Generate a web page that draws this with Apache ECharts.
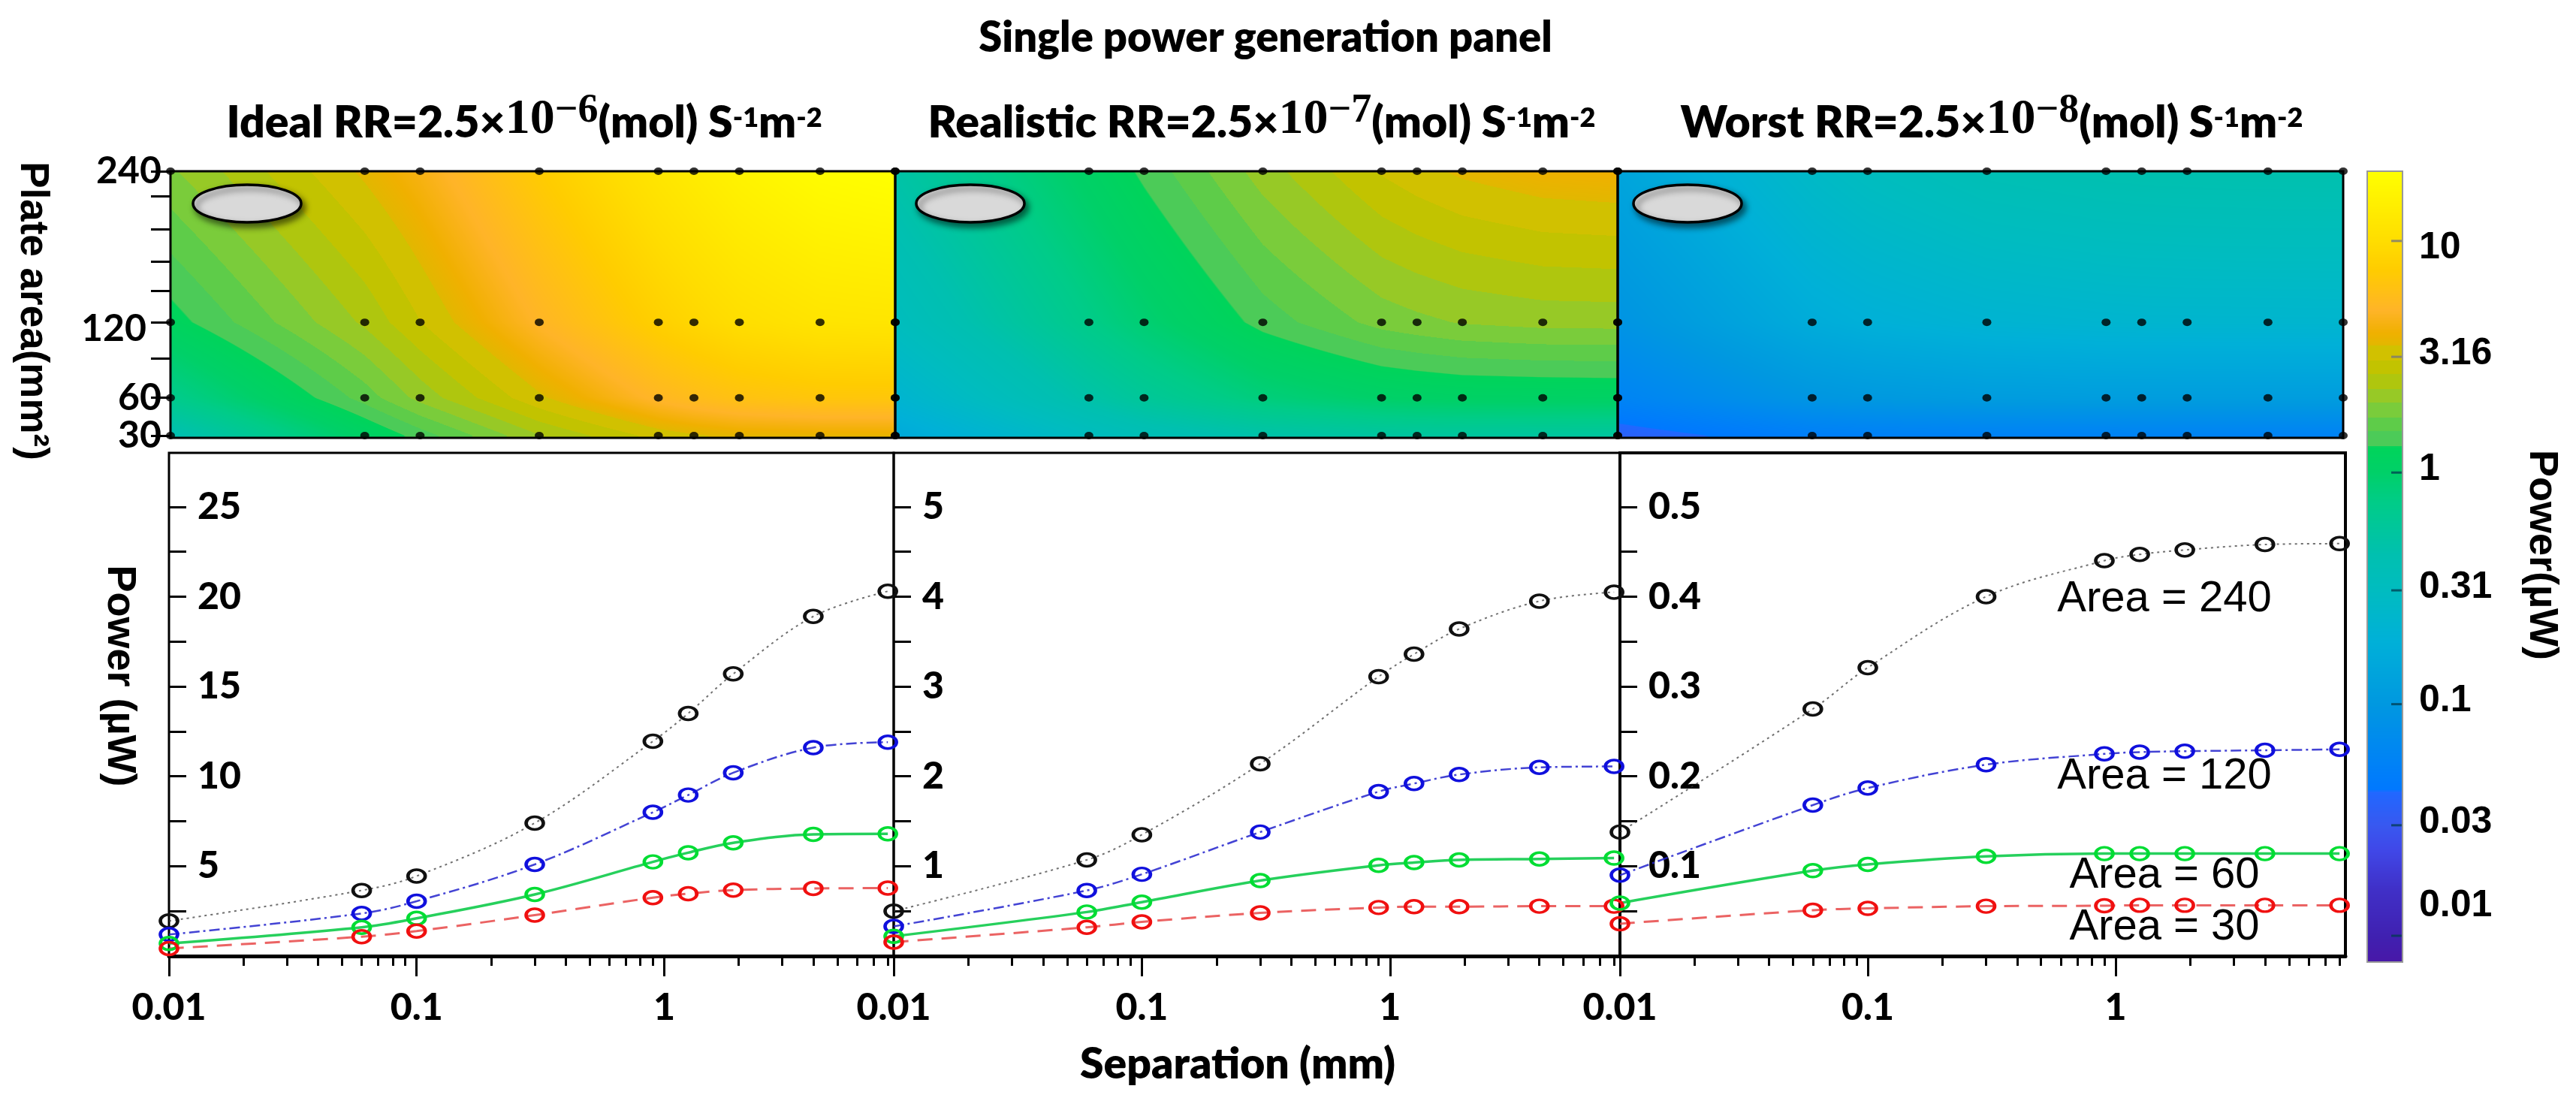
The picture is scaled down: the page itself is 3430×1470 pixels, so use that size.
<!DOCTYPE html>
<html><head><meta charset="utf-8"><style>html,body{margin:0;padding:0;background:#fff}#c{width:3430px;height:1470px}</style>
<script src="https://cdn.jsdelivr.net/npm/echarts@6/dist/echarts.min.js"></script></head>
<body><div id="c"></div><script>
// ---- data ----
const separations=[0.01,0.06,0.1,0.3,0.9,1.25,1.9,4,8];
const areas=[240,120,60,30];
const ideal240=[1.95,3.65,4.45,7.4,11.95,13.5,15.7,18.9,20.3];
const ideal120=[1.2,2.37,3.05,5.1,8.0,8.96,10.2,11.6,11.9];
const ideal60=[0.7,1.6,2.1,3.43,5.24,5.75,6.3,6.77,6.8];
const ideal30=[0.42,1.08,1.39,2.28,3.25,3.47,3.67,3.76,3.78];
const real240=[0.5,1.07,1.35,2.14,3.11,3.36,3.64,3.95,4.05];
const real120=[0.33,0.73,0.91,1.38,1.83,1.92,2.02,2.1,2.11];
const real60=[0.22,0.49,0.6,0.84,1.01,1.04,1.07,1.08,1.09];
const real30=[0.155,0.32,0.38,0.48,0.54,0.55,0.55,0.555,0.555];
const worst240=[0.138,0.275,0.321,0.40,0.44,0.447,0.452,0.458,0.459];
const worst120=[0.09,0.168,0.187,0.213,0.225,0.227,0.228,0.229,0.23];
const worst60=[0.059,0.095,0.102,0.111,0.114,0.114,0.114,0.114,0.114];
const worst30=[0.036,0.051,0.053,0.0555,0.056,0.0565,0.0565,0.0565,0.0565];
const panelSeries=[[ideal240,ideal120,ideal60,ideal30],[real240,real120,real60,real30],[worst240,worst120,worst60,worst30]];
const yTickValues=[[2.5,5,7.5,10,12.5,15,17.5,20,22.5,25],[0.5,1,1.5,2,2.5,3,3.5,4,4.5,5],[0.05,0.1,0.15,0.2,0.25,0.3,0.35,0.4,0.45,0.5]];
const yLabelValues=[[5,10,15,20,25],[1,2,3,4,5],[0.1,0.2,0.3,0.4,0.5]];
const yMax=[28,5.6,0.56];
const plateTicks=[30,60,91,120,145,168,194,220,240];
const plateLabels=[30,60,120,240];
const xMinor=[0.02,0.03,0.04,0.05,0.06,0.07,0.08,0.09,0.2,0.3,0.4,0.5,0.6,0.7,0.8,0.9,2,3,4,5,6,7,8];
const colorbarTicks=[10,3.16,1,0.31,0.1,0.03,0.01];
const colorbarLabels=[10,3.16,1,0.31,0.1,0.03,0.01];
const palette=[[0.0077,'#4818a8'],[0.0098,'#4020b0'],[0.016,'#4030c8'],[0.0235,'#4048e8'],[0.03,'#3858f0'],[0.042,'#2068ff'],[0.0425,'#0078ff'],[0.066,'#0088f0'],[0.1,'#0098e0'],[0.186,'#00b0d8'],[0.31,'#00bcc0'],[0.44,'#00c0b0'],[0.74,'#00cc88'],[1,'#00d068'],[1.29,'#00d45a'],[1.3,'#4ccb58'],[1.52,'#60cc48'],[1.78,'#80cc38'],[2.08,'#a0c820'],[2.5,'#bcc400'],[3.16,'#d4c000'],[3.5,'#e0b800'],[4,'#f0b000'],[5,'#ffb428'],[7.5,'#ffcc00'],[10,'#ffdd00'],[20,'#ffff00']];
const lineColors=['#333333','#2222cc','#00c840','#e84848'];
const markerColors=['#111111','#1010dd','#00dd33','#f01010'];
const lineTypes=[[3,5],[14,5,3,5],'solid',[20,12]];
const lineWidths=[2,2.5,3.5,3];
const panelTitles=[['Ideal RR=2.5×','−6'],['Realistic RR=2.5×','−7'],['Worst RR=2.5×','−8']];
const curveLabels=['Area = 240','Area = 120','Area = 60','Area = 30'];

// ---- helpers ----
const FONT='Lato',ARIAL='"Liberation Sans"';
const stopsRGB=palette.map(p=>[Math.log10(p[0]),parseInt(p[1].slice(1,3),16),parseInt(p[1].slice(3,5),16),parseInt(p[1].slice(5,7),16)]);
function rgbOf(logV){
  // the band between 1.3 and 3.5 is stepped as in the colour key
  if(logV>0.114&&logV<0.55){logV=0.114+Math.floor((logV-0.114)/0.062)*0.062;}
  const s=stopsRGB;if(logV<=s[0][0])return s[0].slice(1);
  for(let i=1;i<s.length;i++){if(logV<=s[i][0]){const t=(logV-s[i-1][0])/(s[i][0]-s[i-1][0]);return [0,1,2].map(k=>s[i-1][k+1]+(s[i][k+1]-s[i-1][k+1])*t);}}
  return s[s.length-1].slice(1);
}
const topGridBox=[[227,1192],[1192,2154],[2154,3120]];
const botGridBox=[[225,1190],[1190,2157],[2157,3123]];
const TOP_Y=[228,583],BOT_Y=[603,1273],CB={left:3152,right:3199,top:228,bottom:1281};
const grid=[],xAxis=[],yAxis=[],series=[];
const xMinVal=0.01,xMaxTop=8,xMaxBot=8.45,plateMin=28.2;

function cellRenderer(values){
  return function(params,api){
    const i=api.value(0),j=api.value(1);
    const xa=separations[i],xb=separations[i+1],ya=areas[j],yb=areas[j+1];
    const yBottom=j===areas.length-2?plateMin:yb;
    const p0=api.coord([xa,ya]),p1=api.coord([xb,yBottom]),pyb=api.coord([xb,yb]);
    const x0=Math.floor(p0[0]),x1=Math.ceil(p1[0]),y0=Math.floor(p0[1]),y1=Math.ceil(p1[1]);
    const w=x1-x0,h=y1-y0,cv=document.createElement('canvas');cv.width=w;cv.height=h;
    const ctx=cv.getContext('2d'),img=ctx.createImageData(w,h);
    const L=(a,b)=>Math.log10(values[a][b]);
    const v00=L(j,i),v10=L(j,i+1),v01=L(j+1,i),v11=L(j+1,i+1);
    for(let py=0;py<h;py++){
      const t=Math.min(1,Math.max(0,(y0+py+0.5-p0[1])/(pyb[1]-p0[1])));
      for(let px=0;px<w;px++){
        const u=Math.min(1,Math.max(0,(x0+px+0.5-p0[0])/(p1[0]-p0[0])));
        const c=rgbOf((v00*(1-u)+v10*u)*(1-t)+(v01*(1-u)+v11*u)*t);
        const o=(py*w+px)*4;img.data[o]=c[0];img.data[o+1]=c[1];img.data[o+2]=c[2];img.data[o+3]=255;
      }
    }
    ctx.putImageData(img,0,0);
    return {type:'image',style:{image:cv,x:x0,y:y0,width:w,height:h}};
  };
}

panelSeries.forEach((vals,k)=>{
  const g=grid.length;
  grid.push({left:topGridBox[k][0],width:topGridBox[k][1]-topGridBox[k][0],top:TOP_Y[0],height:TOP_Y[1]-TOP_Y[0],show:true,borderColor:'#000',borderWidth:3,z:5});
  xAxis.push({gridIndex:g,type:'log',logBase:10,min:xMinVal,max:xMaxTop,axisLine:{show:false},axisTick:{show:false},axisLabel:{show:false},splitLine:{show:false}});
  yAxis.push({gridIndex:g,type:'value',min:plateMin,max:240,axisLine:{show:false},splitLine:{show:false},
    axisTick:{show:k===0,length:26,lineStyle:{color:'#000',width:3},customValues:plateTicks},
    axisLabel:{show:k===0,customValues:plateLabels,showMinLabel:true,showMaxLabel:true,hideOverlap:false,margin:12,fontFamily:FONT,fontWeight:700,fontSize:50,color:'#000',
      formatter:v=>v===120?'{o|120}':'{n|'+v+'}',rich:{o:{fontFamily:FONT,fontWeight:700,fontSize:50,padding:[18,20,0,0]},n:{fontFamily:FONT,fontWeight:700,fontSize:50}}}});
  const cells=[];for(let i=0;i<separations.length-1;i++)for(let j=0;j<areas.length-1;j++)cells.push([i,j]);
  series.push({type:'custom',xAxisIndex:xAxis.length-1,yAxisIndex:yAxis.length-1,coordinateSystem:'cartesian2d',clip:true,silent:true,animation:false,
    data:cells,encode:{x:[],y:[]},renderItem:cellRenderer(vals),z:1});
  const dots=[];areas.forEach(a=>separations.forEach(s=>dots.push([s,a])));
  series.push({type:'scatter',xAxisIndex:xAxis.length-1,yAxisIndex:yAxis.length-1,data:dots,symbol:'circle',symbolSize:[12,10],itemStyle:{color:'#000'},z:10,animation:false,silent:true,clip:false});
});
panelSeries.forEach((vals,k)=>{
  const g=grid.length;
  grid.push({left:botGridBox[k][0],width:botGridBox[k][1]-botGridBox[k][0],top:BOT_Y[0],height:BOT_Y[1]-BOT_Y[0],show:true,borderColor:'#000',borderWidth:k===2?4:3,z:5});
  xAxis.push({gridIndex:g,type:'log',logBase:10,min:xMinVal,max:xMaxBot,position:'bottom',
    axisLine:{show:true,onZero:false,lineStyle:{color:'#000',width:5}},splitLine:{show:false},
    axisTick:{show:true,length:27,lineStyle:{color:'#000',width:3}},
    axisLabel:{margin:44,fontFamily:FONT,fontWeight:900,fontSize:50,color:'#000',showMaxLabel:false,formatter:v=>(Math.abs(v-0.01)<1e-6?'0.01':Math.abs(v-0.1)<1e-6?'0.1':Math.abs(v-1)<1e-6?'1':'')}});
  const mainX=xAxis.length-1;
  xAxis.push({gridIndex:g,type:'log',logBase:10,min:xMinVal,max:xMaxBot,position:'bottom',
    axisLine:{show:false,onZero:false},splitLine:{show:false},axisLabel:{show:false},
    axisTick:{show:true,length:13,lineStyle:{color:'#000',width:3},customValues:xMinor}});
  yAxis.push({gridIndex:g,type:'value',min:0,max:yMax[k],axisLine:{show:false},splitLine:{show:false},
    axisTick:{show:true,inside:true,length:23,lineStyle:{color:'#000',width:3},customValues:yTickValues[k]},
    axisLabel:{show:true,inside:true,customValues:yLabelValues[k],margin:38,fontFamily:FONT,fontWeight:900,fontSize:50,color:'#000',padding:[10,0,0,0]}});
  const yi=yAxis.length-1;
  vals.forEach((arr,a)=>{
    series.push({type:'line',xAxisIndex:mainX,yAxisIndex:yi,data:arr.map((v,i)=>[separations[i],v]),smooth:0.35,symbol:'circle',symbolSize:[23,17],showAllSymbol:true,clip:false,animation:false,silent:true,z:8,
      lineStyle:{color:lineColors[a],width:lineWidths[a],type:lineTypes[a],opacity:a===0?0.7:0.85},
      itemStyle:{color:'rgba(255,255,255,0)',borderColor:markerColors[a],borderWidth:4,opacity:1}});
  });
});
const cbG=grid.length;
grid.push({left:CB.left,width:CB.right-CB.left,top:CB.top,height:CB.bottom-CB.top,show:true,borderColor:'#999',borderWidth:2,z:5});
xAxis.push({gridIndex:cbG,type:'value',min:0,max:1,axisLine:{show:false},axisTick:{show:false},axisLabel:{show:false},splitLine:{show:false}});
yAxis.push({gridIndex:cbG,type:'log',logBase:10,min:palette[0][0],max:palette[palette.length-1][0],position:'right',axisLine:{show:false},splitLine:{show:false},
  axisTick:{show:true,inside:false,length:0,customValues:colorbarTicks},
  axisLabel:{show:true,customValues:colorbarLabels,margin:22,fontFamily:ARIAL,fontWeight:700,fontSize:50,color:'#000',
    formatter:v=>{const s=String(+(+v).toPrecision(3));return s==='0.01'?'{l|0.01}':s==='10'?'{d|10}':'{n|'+s+'}';},
    rich:{l:{fontFamily:ARIAL,fontWeight:700,fontSize:50,padding:[0,0,80,0]},d:{fontFamily:ARIAL,fontWeight:700,fontSize:50,padding:[18,0,0,0]},n:{fontFamily:ARIAL,fontWeight:700,fontSize:50,padding:[0,0,8,0]}}}});
series.push({type:'custom',xAxisIndex:xAxis.length-1,yAxisIndex:yAxis.length-1,coordinateSystem:'cartesian2d',silent:true,animation:false,z:1,clip:true,
  data:[[0]],encode:{x:[],y:[]},renderItem:function(params,api){
    const top=api.coord([0,palette[palette.length-1][0]]),bot=api.coord([1,palette[0][0]]);
    const lo=Math.log10(palette[0][0]),hi=Math.log10(palette[palette.length-1][0]);
    const children=[];const H=bot[1]-top[1];
    for(let y=0;y<H;y+=2){
      const c=rgbOf(hi-(y+1)/H*(hi-lo));
      children.push({type:'rect',shape:{x:top[0],y:top[1]+y,width:bot[0]-top[0],height:2.6},style:{fill:'rgb('+c.map(Math.round).join(',')+')'}});
    }
    colorbarTicks.forEach(t=>{const p=api.coord([1,t]);children.push({type:'line',shape:{x1:p[0]-15,y1:p[1],x2:p[0],y2:p[1]},style:{stroke:t>=3?'rgba(120,120,120,.8)':'rgba(0,60,80,.75)',lineWidth:3}});});
    return {type:'group',children};
  }});

const bold=(s,f)=>({fontFamily:f||FONT,fontWeight:800,fontSize:s,color:'#000'});
const titles=[{text:'Single power generation panel',left:1680,top:46,textAlign:'center',textVerticalAlign:'middle',textStyle:bold(56)}];
const subCentre=[693,1675,2647];
panelTitles.forEach((p,k)=>{
  titles.push({left:subCentre[k],top:152,textAlign:'center',textVerticalAlign:'middle',
    text:'{a|'+p[0]+'}{b|10}{c|'+p[1]+'}{a|(mol) S}{d|-1}{a|m}{d|-2}',
    textStyle:{rich:{
      a:{...bold(59),lineHeight:72,verticalAlign:'bottom'},
      b:{fontFamily:'"Liberation Serif"',fontSize:66,lineHeight:72,color:'#000',verticalAlign:'bottom'},
      c:{fontFamily:'"Liberation Serif"',fontWeight:700,fontSize:54,lineHeight:72,color:'#000',verticalAlign:'top'},
      d:{...bold(36),height:72,lineHeight:72,verticalAlign:'top'}}}});
});
const gText=(text,x,y,font,rot)=>({type:'text',z:100,x,y,rotation:rot||0,style:{text,font,fill:'#000',align:'center',verticalAlign:'middle',textAlign:'center',textVerticalAlign:'middle'}});
const graphic=[
  gText('Plate area(mm²)',43,414,'700 53px "Liberation Sans"',-Math.PI/2),
  gText('Power (µW)',159,900,'700 54px "Liberation Sans"',-Math.PI/2),
  gText('Power(µW)',3384,739,'700 54px "Liberation Sans"',-Math.PI/2),
  gText('Separation (mm)',1648,1418,'800 57px Lato'),
  gText(curveLabels[0],2882,798,'400 58px "Liberation Sans"'),
  gText(curveLabels[1],2882,1034,'400 58px "Liberation Sans"'),
  gText(curveLabels[2],2882,1166,'400 58px "Liberation Sans"'),
  gText(curveLabels[3],2882,1235,'400 58px "Liberation Sans"')
];
[329,1292,2247].forEach(cx=>graphic.push({type:'ellipse',z:100,shape:{cx,cy:271,rx:72,ry:25},style:{fill:'#d9d9d9',stroke:'#000',lineWidth:3.5,shadowBlur:9,shadowColor:'rgba(0,0,0,.55)',shadowOffsetX:4,shadowOffsetY:5}}));

const chart=echarts.init(document.getElementById('c'),null,{width:3430,height:1470});
chart.setOption({animation:false,backgroundColor:'#fff',title:titles,grid,xAxis,yAxis,series,graphic});
</script></body></html>
